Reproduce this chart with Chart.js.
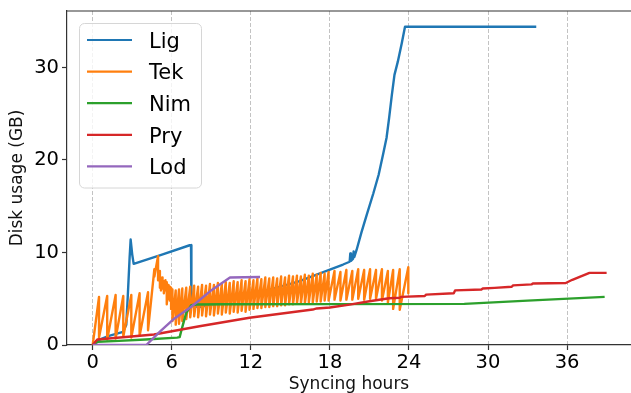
<!DOCTYPE html>
<html>
<head>
<meta charset="utf-8">
<title>Disk usage while syncing</title>
<script src="https://cdn.jsdelivr.net/npm/chart.js@4.4.1/dist/chart.umd.min.js"></script>
<style>
  body { margin: 0; background: #fff; }
  #wrap { width: 631px; height: 393px; }
</style>
</head>
<body>
<div id="wrap"><canvas id="diskChart"></canvas></div>
<script>
const clientNames = ["Lig", "Tek", "Nim", "Pry", "Lod"];
const clientColors = ["#1f77b4", "#ff7f0e", "#2ca02c", "#d62728", "#9467bd"];
const hourTicks = [0, 6, 12, 18, 24, 30, 36];
const gbTicks = [0, 10, 20, 30];

const ligHours = [0, 0.3, 1.17, 2.3, 2.55, 2.68, 2.8, 2.88, 3.0, 3.11, 5.2, 7.36, 7.46, 7.49, 8.1, 9.0, 9.9, 11.0, 12.4, 13.7, 15.0, 15.7, 17.0, 18.0, 19.0, 19.5, 19.55, 19.6, 19.75, 19.8, 19.85, 20.03, 20.4, 20.8, 21.3, 21.7, 22.05, 22.3, 22.5, 22.7, 22.9, 23.15, 23.45, 23.7, 33.66];
const ligGB = [0, 0.45, 0.95, 1.42, 2.2, 5.8, 9.4, 11.4, 9.77, 8.77, 9.75, 10.78, 10.8, 4.2, 4.1, 4.4, 4.8, 5.2, 5.6, 6.1, 6.6, 6.9, 7.6, 8.15, 8.7, 9.0, 9.9, 9.1, 9.3, 10.1, 9.5, 10.3, 12.2, 14.1, 16.4, 18.4, 20.7, 22.4, 24.6, 27.0, 29.2, 30.6, 32.6, 34.4, 34.4];

// Tek: each tooth climbs to a peak, then drops straight down to a trough
const tekHours = [0, 0.48, 1.1, 1.74, 2.32, 2.93, 3.56, 4.2, 4.68, 4.96, 5.1, 5.18, 5.3, 5.4, 5.52, 5.62, 5.75, 5.85, 5.95, 6.05,
  6.3, 6.55, 6.8, 7.1, 7.4, 7.7, 8.0, 8.3, 8.6, 8.9, 9.2, 9.5, 9.8, 10.1, 10.4, 10.7, 11.0, 11.3, 11.6, 11.9,
  12.2, 12.5, 12.8, 13.1, 13.4, 13.7, 14.0, 14.3, 14.6, 14.9, 15.2, 15.5, 15.8, 16.1, 16.4, 16.7, 17.0, 17.3, 17.6, 17.9,
  18.35, 18.8, 19.25, 19.7, 20.15, 20.6, 21.05, 21.5, 21.95, 22.4, 22.8, 23.3, 23.95];
const tekPeak = [0, 5.2, 5.3, 5.4, 5.3, 5.4, 5.6, 5.7, 8.2, 9.6, 8.0, 7.3, 7.3, 6.9, 7.0, 6.8, 6.5, 6.3, 6.2, 6.0,
  5.9, 6.0, 6.1, 6.2, 6.3, 6.4, 6.3, 6.5, 6.4, 6.6, 6.5, 6.7, 6.6, 6.8, 6.7, 6.9, 6.8, 7.0, 6.9, 7.1,
  7.0, 7.2, 7.1, 7.3, 7.2, 7.3, 7.2, 7.4, 7.3, 7.5, 7.4, 7.5, 7.4, 7.6, 7.5, 7.7, 7.6, 7.8, 7.7, 7.9,
  8.0, 7.9, 8.1, 8.0, 8.2, 8.1, 8.2, 8.1, 8.2, 8.0, 8.1, 8.2, 8.4];
const tekTrough = [0, 0.8, 0.6, 0.7, 0.9, 0.8, 1.0, 1.6, 7.4, 7.0, 6.2, 5.9, 6.1, 5.6, 5.9, 4.4, 5.0, 4.8, 3.9, 2.6,
  2.2, 2.3, 2.6, 2.8, 3.0, 3.1, 3.0, 3.2, 3.1, 3.3, 3.2, 3.4, 3.3, 3.5, 3.4, 3.6, 3.5, 3.7, 3.6, 3.8,
  3.9, 4.0, 4.0, 4.1, 4.1, 4.2, 4.2, 4.3, 4.3, 4.4, 4.4, 4.5, 4.5, 4.5, 4.6, 4.6, 4.7, 4.7, 4.8, 4.8,
  4.9, 4.8, 4.9, 4.9, 5.0, 4.9, 5.0, 5.0, 4.8, 4.6, 3.9, 3.8, 5.6];

const nimHours = [0, 0.4, 2, 4, 6.4, 6.6, 6.7, 6.85, 7.1, 7.48, 7.9, 10, 18, 28.2, 33, 38.85];
const nimGB = [0, 0.35, 0.45, 0.6, 0.8, 0.85, 1.4, 2.2, 3.47, 4.3, 4.38, 4.4, 4.42, 4.45, 4.8, 5.2];

const pryHours = [0, 0.35, 4.65, 8.1, 11.9, 16.7, 17.0, 18, 19.5, 21.0, 22.5, 23.3, 23.4, 25.2, 25.3, 27.4, 27.5, 29.5, 29.6, 30.5, 31.8, 31.9, 33.3, 33.4, 35.9, 36.4, 37.0, 37.7, 39.0];
const pryGB = [0, 0.6, 1.13, 2.03, 2.94, 3.83, 3.95, 4.05, 4.37, 4.73, 5.05, 5.1, 5.2, 5.3, 5.45, 5.6, 5.9, 6.0, 6.1, 6.17, 6.3, 6.45, 6.55, 6.65, 6.7, 7.05, 7.4, 7.8, 7.8];

const lodHours = [0, 4.07, 5.1, 6.1, 7.4, 8.0, 8.9, 10.42, 11.5, 12.7];
const lodGB = [0, 0, 1.45, 2.75, 4.05, 4.73, 5.8, 7.3, 7.32, 7.35];

const toPoints = (xs, ys) => xs.map((x, i) => ({ x: x, y: ys[i] }));

const tekPoints = [];
tekHours.forEach((h, i) => {
  tekPoints.push({ x: h, y: tekPeak[i] });
  tekPoints.push({ x: h, y: tekTrough[i] });
});

const seriesPoints = [
  toPoints(ligHours, ligGB),
  tekPoints,
  toPoints(nimHours, nimGB),
  toPoints(pryHours, pryGB),
  toPoints(lodHours, lodGB),
];

const font = "DejaVu Sans";

// legend drawn inside the plot, upper left, plus the top spine
const insideLegend = {
  id: "insideLegend",
  afterDraw(chart) {
    const ctx = chart.ctx;
    const area = chart.chartArea;
    ctx.save();
    ctx.strokeStyle = "#333";
    ctx.lineWidth = 1.2;
    ctx.beginPath();
    ctx.moveTo(area.left, area.top);
    ctx.lineTo(area.right, area.top);
    ctx.stroke();

    const bx = area.left + 12.5;
    const by = area.top + 12.5;
    ctx.beginPath();
    ctx.roundRect(bx, by, 122, 164.5, 5);
    ctx.fillStyle = "rgba(255,255,255,0.8)";
    ctx.fill();
    ctx.strokeStyle = "#d6d6d6";
    ctx.lineWidth = 1;
    ctx.stroke();

    ctx.font = "21px '" + font + "'";
    ctx.textBaseline = "alphabetic";
    clientNames.forEach((name, i) => {
      const y = area.top + 29 + i * 31.6;
      ctx.strokeStyle = clientColors[i];
      ctx.lineWidth = 2.2;
      ctx.beginPath();
      ctx.moveTo(area.left + 20, y);
      ctx.lineTo(area.left + 65, y);
      ctx.stroke();
      ctx.fillStyle = "#000";
      ctx.fillText(name, area.left + 82, y + 7.7);
    });
    ctx.restore();
  },
};

const chartData = {
  datasets: clientNames.map((name, i) => ({
    label: name,
    data: seriesPoints[i],
    borderColor: clientColors[i],
    backgroundColor: clientColors[i],
    borderWidth: 2.4,
    borderJoinStyle: "round",
    pointRadius: 0,
    tension: 0,
    fill: false,
    order: clientNames.length - i,
  })),
};

const diskChart = new Chart(document.getElementById("diskChart"), {
  type: "line",
  data: chartData,
  plugins: [insideLegend],
  options: {
    responsive: true,
    maintainAspectRatio: false,
    animation: false,
    layout: { padding: { top: 11, right: 0, bottom: 0, left: 0 } },
    plugins: {
      legend: { display: false },
      tooltip: { enabled: false },
    },
    scales: {
      x: {
        type: "linear",
        min: -1.95,
        max: 40.85,
        afterBuildTicks: (scale) => {
          scale.ticks = hourTicks.map((v) => ({ value: v }));
        },
        afterFit: (scale) => {
          scale.height = 48;
          scale.paddingLeft = 0;
          scale.paddingRight = 0;
        },
        ticks: {
          color: "#000",
          padding: 1,
          maxRotation: 0,
          font: { family: font, size: 19.5 },
        },
        grid: {
          color: "rgba(176,176,176,0.85)",
          lineWidth: 0.9,
          tickColor: "#333",
          tickWidth: 1.2,
          tickLength: 5,
        },
        border: { color: "#333", width: 1.2, dash: [4, 2] },
        title: {
          display: true,
          text: "Syncing hours",
          color: "#111",
          font: { family: font, size: 17 },
          padding: { top: 0, bottom: -2 },
        },
      },
      y: {
        type: "linear",
        min: 0,
        max: 36.1,
        afterBuildTicks: (scale) => {
          scale.ticks = gbTicks.map((v) => ({ value: v }));
        },
        afterFit: (scale) => {
          scale.width = 67;
          scale.paddingTop = 0;
          scale.paddingBottom = 0;
        },
        ticks: {
          color: "#000",
          padding: 3,
          font: { family: font, size: 19.5 },
        },
        grid: {
          drawOnChartArea: false,
          tickColor: "#333",
          tickWidth: 1.2,
          tickLength: 5,
        },
        border: { color: "#333", width: 1.2 },
        title: {
          display: true,
          text: "Disk usage (GB)",
          color: "#111",
          font: { family: font, size: 17 },
          padding: { top: 7.5, bottom: 0 },
        },
      },
    },
  },
});
</script>
</body>
</html>
